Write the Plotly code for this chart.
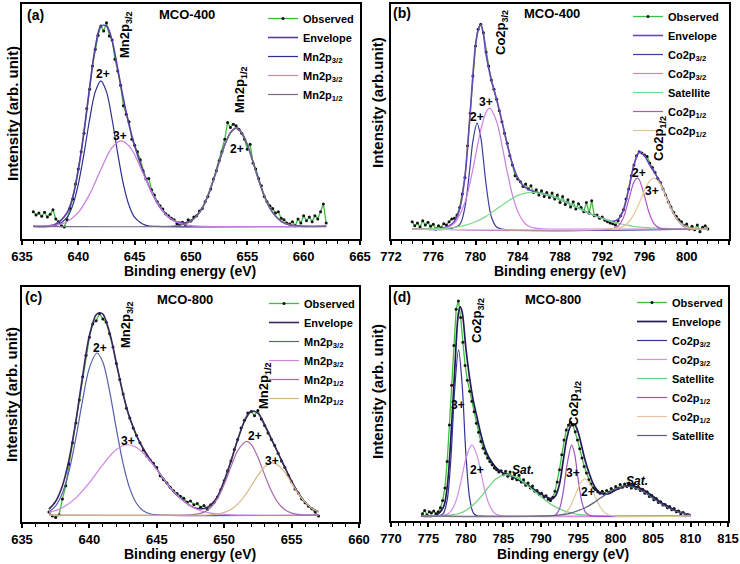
import numpy as np
import plotly.graph_objects as go

# ---------------- Panel (a): MCO-400, Mn 2p ----------------
A_OBS_START, A_OBS_STEP = 636.0, 0.25
A_OBS = [82, 72, 78, 68, 80, 66, 74, 88, 60, 52, 40, 36, 58, 92, 120, 165, 210, 262, 318, 392,
         450, 520, 570, 612, 640, 625, 650, 610, 598, 540, 505, 462, 400, 375, 352, 300, 282, 262, 238, 205,
         180, 182, 148, 132, 112, 100, 90, 76, 70, 62, 58, 46, 44, 50, 42, 58, 54, 66, 70, 84,
         92, 112, 128, 150, 180, 205, 235, 262, 300, 350, 335, 345, 340, 330, 318, 300, 270, 285, 228, 210,
         182, 160, 128, 112, 100, 92, 78, 82, 62, 58, 48, 45, 52, 40, 60, 48, 70, 55, 66, 52,
         70, 60, 82, 105, 48]
A_ENV_X = [636, 637, 638, 639, 639.5, 640, 640.5, 641, 641.5, 642, 642.5, 643, 643.5, 644, 644.5, 645, 645.5,
           646, 646.5, 647, 647.5, 648, 648.5, 649, 649.5, 650, 650.5, 651, 651.5, 652, 652.5, 653, 653.5,
           654, 654.5, 655, 655.5, 656, 656.5, 657, 657.5, 658, 658.5, 659, 660, 662]
A_ENV_Y = [38, 38, 45, 79, 126, 207, 322, 455, 575, 640, 640, 596, 510, 421, 343, 280, 227,
           181, 141, 109, 84, 66, 55, 50, 49, 55, 69, 93, 130, 178, 232, 283, 319,
           333, 319, 283, 232, 178, 130, 93, 69, 53, 45, 41, 38, 38]
A_MN32_2_X = [636, 638, 639, 639.5, 640, 640.5, 641, 641.5, 642, 642.5, 643, 643.5, 644, 644.5, 645, 646, 647, 662]
A_MN32_2_Y = [38, 41, 65, 101, 165, 256, 359, 442, 475, 442, 359, 256, 165, 101, 65, 41, 38, 38]
A_MN32_3_X = [636, 638, 639, 640, 641, 642, 643, 643.8, 644.5, 645, 646, 647, 648, 649, 650, 651, 662]
A_MN32_3_Y = [38, 42, 52, 80, 134, 209, 275, 295, 280, 253, 178, 109, 66, 47, 40, 38, 38]
A_MN12_X = [636, 648, 649, 650, 651, 652, 652.5, 653, 653.5, 654, 654.5, 655, 655.5, 656, 657, 658, 659, 660, 662]
A_MN12_Y = [38, 38, 41, 53, 93, 178, 232, 283, 319, 333, 319, 283, 232, 178, 93, 53, 41, 38, 38]

# ---------------- Panel (b): MCO-400, Co 2p ----------------
B_OBS_START, B_OBS_STEP = 774.0, 0.25
B_OBS = [52, 40, 48, 36, 55, 42, 50, 38, 44, 30, 40, 34, 46, 42, 52, 60, 62, 72, 95, 135,
         185, 280, 378, 490, 580, 630, 645, 620, 562, 520, 478, 450, 420, 385, 352, 318, 288, 250, 222, 190,
         180, 172, 158, 165, 150, 160, 140, 148, 132, 145, 128, 140, 125, 138, 120, 132, 110, 128, 104, 118,
         96, 112, 90, 106, 95, 82, 110, 78, 115, 70, 72, 62, 66, 56, 52, 48, 46, 42, 55, 70,
         88, 120, 150, 190, 222, 250, 262, 258, 252, 248, 228, 215, 200, 182, 170, 150, 132, 112, 96, 80,
         68, 58, 52, 40, 45, 30, 38, 28, 42, 22, 35, 40, 30]
B_ENV_X = [774, 776, 777, 777.5, 778, 778.5, 779, 779.5, 779.75, 780, 780.25, 780.5, 780.75, 781, 781.5, 782,
           782.5, 783, 783.5, 784, 784.5, 785, 785.5, 786, 787, 788, 789, 790, 791, 792, 793, 793.5, 794,
           794.5, 795, 795.5, 796, 796.5, 797, 797.5, 798, 798.5, 799, 799.5, 800, 800.5, 801, 802]
B_ENV_Y = [30, 31, 34, 39, 53, 90, 187, 381, 492, 582, 629, 645, 615, 554, 477, 419,
           354, 284, 225, 184, 161, 149, 143, 139, 131, 119, 104, 89, 74, 62, 53, 59, 86,
           149, 223, 261, 250, 222, 197, 169, 132, 94, 63, 45, 35, 32, 30, 30]
B_CO32_2_X = [774, 777.5, 778.5, 779, 779.5, 779.75, 780.15, 780.5, 780.75, 781, 781.5, 782, 782.5, 802]
B_CO32_2_Y = [30, 30, 43, 96, 223, 293, 348, 305, 238, 165, 67, 36, 30, 30]
B_CO32_3_X = [774, 777, 778, 779, 779.5, 780, 780.5, 781, 781.35, 782, 782.5, 783, 783.5, 784, 784.5, 785, 786, 787, 802]
B_CO32_3_Y = [30, 32, 47, 110, 172, 250, 328, 381, 393, 353, 283, 202, 132, 83, 54, 39, 31, 30, 30]
B_SAT_X = [774, 776, 777, 778, 779, 780, 781, 782, 783, 784, 785.2, 786, 787, 788, 789, 790, 791, 792, 793,
           794, 795, 796, 797, 798, 800, 802]
B_SAT_Y = [30, 31, 32, 35, 41, 52, 68, 90, 112, 131, 140, 138, 131, 119, 104, 89, 74, 62, 51,
           44, 38, 35, 33, 32, 30, 30]
B_CO12_2_X = [774, 793, 793.5, 794, 794.5, 795, 795.3, 795.5, 796, 796.5, 797, 797.5, 798, 802]
B_CO12_2_Y = [30, 31, 39, 64, 117, 171, 183, 178, 129, 73, 42, 32, 30, 30]
B_CO12_3_X = [774, 793, 794, 794.5, 795, 795.5, 796, 796.5, 796.9, 797.5, 798, 798.5, 799, 799.5, 800, 800.5, 801, 802]
B_CO12_3_Y = [30, 31, 38, 51, 74, 107, 146, 175, 183, 165, 130, 93, 63, 45, 35, 32, 30, 30]

# ---------------- Panel (c): MCO-800, Mn 2p ----------------
C_OBS_START, C_OBS_STEP = 637.0, 0.25
C_OBS = [30, 18, 14, 22, 70, 110, 175, 240, 300, 370, 440, 505, 560, 600, 610, 632, 615, 605, 570, 530,
         480, 432, 388, 345, 315, 285, 262, 240, 218, 200, 188, 178, 165, 140, 128, 118, 105, 95, 86, 78,
         72, 60, 64, 52, 56, 45, 50, 38, 52, 60, 76, 98, 125, 155, 185, 220, 250, 285, 308, 330,
         335, 322, 338, 312, 292, 270, 250, 232, 208, 185, 165, 142, 122, 100, 88, 70, 58, 48, 40, 30,
         18]
C_ENV_X = [637, 637.5, 638, 638.5, 639, 639.5, 640, 640.5, 640.75, 641, 641.5, 642, 642.5, 643, 643.5, 644,
           644.5, 645, 645.5, 646, 646.5, 647, 647.5, 648, 648.5, 649, 649.5, 650, 650.5, 651, 651.5, 652,
           652.5, 653, 653.5, 654, 654.5, 655, 655.5, 656, 656.5, 657]
C_ENV_Y = [39, 63, 110, 191, 307, 443, 565, 628, 634, 630, 574, 481, 387, 314, 261, 222,
           190, 160, 131, 104, 81, 64, 49, 41, 41, 51, 77, 124, 184, 249, 305, 335,
           330, 295, 252, 209, 166, 124, 88, 60, 41, 31]
C_MN32_2_X = [637, 637.5, 638, 638.5, 639, 639.5, 640, 640.56, 641, 641.5, 642, 642.5, 643, 643.5, 644, 644.5, 645.5, 657]
C_MN32_2_Y = [31, 49, 88, 156, 255, 370, 467, 512, 484, 396, 282, 177, 101, 56, 34, 25, 21, 21]
C_MN32_3_X = [637, 637.5, 638, 639, 640, 641, 642, 642.86, 643.5, 644, 645, 646, 647, 648, 649, 650, 651, 657]
C_MN32_3_Y = [29, 35, 43, 73, 119, 174, 220, 234, 226, 209, 159, 104, 63, 38, 27, 23, 21, 21]
C_MN12_2_X = [637, 647.5, 648, 648.5, 649, 649.5, 650, 650.5, 651, 651.64, 652, 652.5, 653, 653.5, 654, 654.5,
              655, 655.5, 656, 657]
C_MN12_2_Y = [21, 22, 24, 30, 44, 71, 114, 167, 216, 244, 235, 196, 143, 94, 58, 37, 27, 23, 21, 21]
C_MN12_3_X = [637, 648.5, 649, 649.5, 650, 650.5, 651, 651.5, 652, 652.5, 653, 653.57, 654, 654.5, 655, 655.5,
              656, 656.5, 657]
C_MN12_3_Y = [21, 21, 22, 24, 29, 38, 54, 78, 109, 141, 167, 179, 172, 150, 118, 86, 60, 41, 31]

# ---------------- Panel (d): MCO-800, Co 2p ----------------
D_OBS_START, D_OBS_STEP = 774.2, 0.3
D_OBS = [22, 32, 18, 28, 24, 30, 22, 28, 40, 62, 100, 180, 290, 410, 530, 640, 665, 615, 540, 470,
         425, 392, 362, 330, 295, 268, 240, 220, 205, 190, 180, 170, 160, 155, 148, 152, 140, 150, 135, 148,
         128, 140, 125, 138, 118, 125, 108, 115, 100, 106, 90, 92, 80, 84, 72, 76, 66, 62, 72, 90,
         118, 155, 200, 245, 275, 290, 298, 290, 270, 245, 218, 190, 165, 145, 125, 112, 100, 95, 88, 84,
         90, 82, 92, 86, 98, 92, 104, 98, 110, 102, 112, 104, 115, 100, 110, 98, 104, 92, 96, 84,
         88, 74, 78, 64, 68, 56, 58, 48, 50, 40, 44, 34, 38, 28, 30, 22, 26, 16, 20]
D_ENV_X = [774, 776, 777, 777.5, 778, 778.5, 779, 779.25, 779.5, 780, 780.5, 781, 781.5, 782, 782.5, 783,
           783.5, 784, 784.5, 785, 785.5, 786, 787, 788, 789, 790, 791, 791.5, 792, 792.5, 793, 793.5,
           794, 794.5, 795, 795.5, 796, 796.5, 797, 797.5, 798, 799, 800, 801, 802, 803, 804, 805,
           806, 807, 808, 809, 810]
D_ENV_Y = [15, 17, 42, 102, 252, 452, 627, 647, 632, 522, 432, 362, 312, 262, 222, 195,
           177, 162, 152, 144, 142, 137, 125, 112, 97, 82, 70, 67, 77, 112, 182, 252,
           287, 292, 267, 222, 177, 142, 112, 94, 84, 82, 94, 104, 107, 102, 90, 74,
           57, 44, 32, 24, 19]
D_CO32_3_X = [774, 776.5, 777, 777.5, 778, 778.5, 779.02, 779.5, 780, 780.5, 781, 781.5, 782, 810]
D_CO32_3_Y = [15, 16, 23, 63, 189, 396, 517, 412, 203, 69, 24, 16, 15, 15]
D_CO32_2_X = [774, 777, 777.5, 778, 778.5, 779, 779.5, 780, 780.8, 781.5, 782, 782.5, 783, 783.5, 784, 784.5, 785, 810]
D_CO32_2_Y = [15, 17, 20, 30, 50, 86, 136, 188, 230, 197, 147, 95, 56, 33, 21, 17, 15, 15]
D_SAT1_X = [774, 776, 777, 778, 779, 780, 781, 782, 783, 784, 785.24, 786, 787, 788, 789, 790, 791, 792, 793,
            794, 795, 796, 797, 798, 810]
D_SAT1_Y = [15, 15, 16, 18, 22, 32, 49, 73, 102, 127, 140, 138, 128, 112, 93, 74, 56, 42, 32,
            25, 20, 18, 16, 15, 15]
D_CO12_3_X = [774, 791.5, 792, 792.5, 793, 793.5, 794.12, 794.5, 795, 795.5, 796, 796.5, 797, 810]
D_CO12_3_Y = [15, 16, 19, 37, 88, 169, 229, 204, 125, 56, 25, 17, 15, 15]
D_CO12_2_X = [774, 792, 793, 793.5, 794, 794.5, 795, 795.5, 795.9, 796.5, 797, 797.5, 798, 798.5, 799, 800, 810]
D_CO12_2_Y = [15, 16, 21, 30, 47, 72, 100, 121, 127, 114, 89, 61, 40, 26, 19, 15, 15]
D_SAT2_X = [774, 790, 792, 794, 796, 797, 798, 799, 800, 801.45, 803, 804, 805, 806, 807, 808, 809, 810]
D_SAT2_Y = [15, 15, 17, 24, 41, 54, 70, 85, 97, 105, 96, 84, 68, 53, 40, 30, 23, 19]

# ---------------- axis settings ----------------
X_RANGES = [[635, 665], [772, 804], [635, 660], [770, 815]]
X_DTICK = [5, 4, 5, 5]
X_MINOR = [1, 1, 1, 1]
Y_RANGES = [[0, 706], [0, 706], [0, 712], [0, 707]]

W, H = 740, 564
FONT = "Arial, 'Liberation Sans', Helvetica, sans-serif"
GREEN = "#3cbf3c"

fig = go.Figure()


def comp(x, y, name, color, n, width=1.2, show=True):
    ax = "" if n == 1 else str(n)
    fig.add_trace(go.Scatter(x=x, y=y, mode="lines", name=name,
                             line=dict(color=color, width=width, shape="spline", smoothing=0.9),
                             xaxis="x" + ax, yaxis="y" + ax, legend="legend" + ax,
                             showlegend=show, hoverinfo="skip"))


def obs(start, step, vals, n):
    ax = "" if n == 1 else str(n)
    x = start + step * np.arange(len(vals))
    fig.add_trace(go.Scatter(x=x, y=vals, mode="lines+markers", name="Observed",
                             line=dict(color=GREEN, width=1.3),
                             marker=dict(color="#111111", size=3),
                             xaxis="x" + ax, yaxis="y" + ax, legend="legend" + ax))


# (a)
obs(A_OBS_START, A_OBS_STEP, A_OBS, 1)
comp(A_ENV_X, A_ENV_Y, "Envelope", "#5b3aa6", 1, 1.6)
comp(A_MN32_2_X, A_MN32_2_Y, "Mn2p<sub>3/2</sub>", "#2c2f8c", 1)
comp(A_MN32_3_X, A_MN32_3_Y, "Mn2p<sub>3/2</sub>", "#c77ce0", 1)
comp(A_MN12_X, A_MN12_Y, "Mn2p<sub>1/2</sub>", "#776a86", 1)

# (b)
obs(B_OBS_START, B_OBS_STEP, B_OBS, 2)
comp(B_ENV_X, B_ENV_Y, "Envelope", "#6a44b8", 2, 1.6)
comp(B_CO32_2_X, B_CO32_2_Y, "Co2p<sub>3/2</sub>", "#3a3f9c", 2)
comp(B_CO32_3_X, B_CO32_3_Y, "Co2p<sub>3/2</sub>", "#cf7ee2", 2)
comp(B_SAT_X, B_SAT_Y, "Satellite", "#7ad98a", 2)
comp(B_CO12_2_X, B_CO12_2_Y, "Co2p<sub>1/2</sub>", "#b056c4", 2)
comp(B_CO12_3_X, B_CO12_3_Y, "Co2p<sub>1/2</sub>", "#e2c890", 2)

# (c)
obs(C_OBS_START, C_OBS_STEP, C_OBS, 3)
comp(C_ENV_X, C_ENV_Y, "Envelope", "#3e2463", 3, 1.6)
comp(C_MN32_2_X, C_MN32_2_Y, "Mn2p<sub>3/2</sub>", "#5560aa", 3)
comp(C_MN32_3_X, C_MN32_3_Y, "Mn2p<sub>3/2</sub>", "#cf84e6", 3)
comp(C_MN12_2_X, C_MN12_2_Y, "Mn2p<sub>1/2</sub>", "#a56aa8", 3)
comp(C_MN12_3_X, C_MN12_3_Y, "Mn2p<sub>1/2</sub>", "#d9b585", 3)

# (d)
obs(D_OBS_START, D_OBS_STEP, D_OBS, 4)
comp(D_ENV_X, D_ENV_Y, "Envelope", "#1f1a52", 4, 1.7)
comp(D_CO32_3_X, D_CO32_3_Y, "Co2p<sub>3/2</sub>", "#34329a", 4)
comp(D_CO32_2_X, D_CO32_2_Y, "Co2p<sub>3/2</sub>", "#d58ee6", 4)
comp(D_SAT1_X, D_SAT1_Y, "Satellite", "#6fcf80", 4)
comp(D_CO12_3_X, D_CO12_3_Y, "Co2p<sub>1/2</sub>", "#9e52c8", 4)
comp(D_CO12_2_X, D_CO12_2_Y, "Co2p<sub>1/2</sub>", "#e3c69c", 4)
comp(D_SAT2_X, D_SAT2_Y, "Satellite", "#5b5d7e", 4)

# panel pixel boxes (left, right, top, bottom)
BOXES = [(22, 360, 4, 239), (391, 729, 4, 239), (22, 359, 287, 522), (391, 728, 287, 521)]

layout = dict(width=W, height=H, margin=dict(l=0, r=0, t=0, b=0, pad=0, autoexpand=False),
              paper_bgcolor="white", plot_bgcolor="white",
              font=dict(family=FONT, color="black"))

for i, (l, r, t, b) in enumerate(BOXES):
    n = "" if i == 0 else str(i + 1)
    layout["xaxis" + n] = dict(domain=[l / W, r / W], range=X_RANGES[i], anchor="y" + n,
                               dtick=X_DTICK[i], tick0=X_RANGES[i][0], ticks="outside", ticklen=4,
                               tickwidth=1.5, tickcolor="black", automargin=False,
                               minor=dict(dtick=X_MINOR[i], ticks="outside", ticklen=2.5, tickwidth=1,
                                          tickcolor="black", showgrid=False),
                               tickfont=dict(size=13, family=FONT, weight="bold", color="black"),
                               showline=True, linecolor="black", linewidth=2, mirror=True,
                               showgrid=False, zeroline=False, fixedrange=True)
    layout["yaxis" + n] = dict(domain=[1 - b / H, 1 - t / H], range=Y_RANGES[i], anchor="x" + n,
                               showticklabels=False, ticks="", showline=True, linecolor="black",
                               automargin=False,
                               linewidth=2, mirror=True, showgrid=False, zeroline=False, fixedrange=True)

LEG_POS = [(263, 4), (628, 2), (264, 289), (632, 288)]
for i, (lx, ly) in enumerate(LEG_POS):
    n = "" if i == 0 else str(i + 1)
    layout["legend" + n] = dict(x=lx / W, y=1 - ly / H, xanchor="left", yanchor="top",
                                bgcolor="rgba(0,0,0,0)", borderwidth=0, tracegroupgap=0,
                                font=dict(size=11, family=FONT, weight="bold", color="black"))

fig.update_layout(**layout)


def ann(text, px, py, size=12, angle=0, italic=False):
    fig.add_annotation(text=text, x=px / W, y=1 - py / H, xref="paper", yref="paper",
                       showarrow=False, textangle=angle, xanchor="center", yanchor="middle",
                       font=dict(size=size, family=FONT, weight="bold", color="black",
                                 style="italic" if italic else "normal"))


# axis titles
ann("Intensity (arb. unit)", 12, 114, 15, -90)
ann("Intensity (arb.unit)", 377, 103, 15, -90)
ann("Intensity (arb. unit)", 11, 395, 15, -90)
ann("Intensity (arb. unit)", 377, 392, 15, -90)
ann("Binding energy (eV)", 190, 271, 14)
ann("Binding energy (eV)", 560, 271, 14)
ann("Binding energy (eV)", 190, 554, 14)
ann("Binding energy (eV)", 563, 554, 14)

# (a)
ann("(a)", 35, 15, 14)
ann("MCO-400", 187, 15, 13)
ann("Mn2p<sub>3/2</sub>", 125, 35, 13, -90)
ann("2+", 103, 74, 12)
ann("3+", 120, 136, 12)
ann("Mn2p<sub>1/2</sub>", 241, 90, 13, -90)
ann("2+", 237, 149, 12)
# (b)
ann("(b)", 402, 13, 14)
ann("MCO-400", 552, 14, 13)
ann("Co2p<sub>3/2</sub>", 502, 32, 13, -90)
ann("2+", 477, 117, 12)
ann("3+", 486, 102, 12)
ann("Co2p<sub>1/2</sub>", 659, 139, 13, -90)
ann("2+", 639, 173, 12)
ann("3+", 652, 191, 12)
# (c)
ann("(c)", 33, 297, 14)
ann("MCO-800", 185, 299, 13)
ann("Mn2p<sub>3/2</sub>", 126, 325, 13, -90)
ann("2+", 100, 348, 12)
ann("3+", 128, 441, 12)
ann("Mn2p<sub>1/2</sub>", 264, 386, 13, -90)
ann("2+", 255, 436, 12)
ann("3+", 272, 461, 12)
# (d)
ann("(d)", 402, 297, 14)
ann("MCO-800", 553, 299, 13)
ann("Co2p<sub>3/2</sub>", 477, 321, 13, -90)
ann("3+", 458, 405, 12)
ann("2+", 477, 470, 12)
ann("Sat.", 523, 470, 12, italic=True)
ann("Co2p<sub>1/2</sub>", 574, 404, 13, -90)
ann("3+", 573, 473, 12)
ann("2+", 588, 492, 12)
ann("Sat.", 637, 481, 12, italic=True)

fig.write_html("out.html")
